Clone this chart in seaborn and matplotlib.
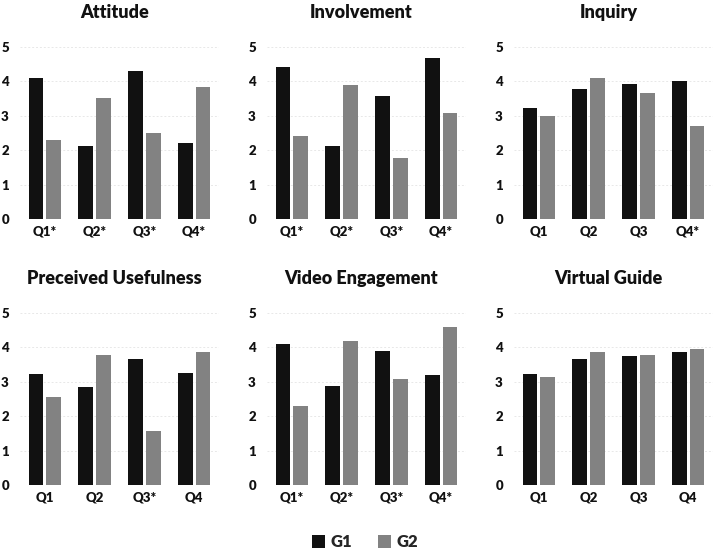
import matplotlib
matplotlib.use("Agg")
import matplotlib.pyplot as plt
import seaborn as sns
import pandas as pd
from matplotlib.patches import Patch

sns.set_theme(style="white")
plt.rcParams['font.family'] = ['Lato', 'DejaVu Sans']
plt.rcParams['font.weight'] = 'bold'

titles = ["Attitude", "Involvement", "Inquiry",
          "Preceived Usefulness", "Video Engagement", "Virtual Guide"]
tick_labels = [
    ["Q1*", "Q2*", "Q3*", "Q4*"],
    ["Q1*", "Q2*", "Q3*", "Q4*"],
    ["Q1", "Q2", "Q3", "Q4*"],
    ["Q1", "Q2", "Q3*", "Q4"],
    ["Q1*", "Q2*", "Q3*", "Q4*"],
    ["Q1", "Q2", "Q3", "Q4"],
]
questions = ["Q1", "Q2", "Q3", "Q4"]
groups = ["G1", "G2"]
g1_values = [
    [4.11, 2.11, 4.31, 2.22],
    [4.41, 2.11, 3.57, 4.67],
    [3.22, 3.77, 3.91, 4.01],
    [3.22, 2.86, 3.66, 3.25],
    [4.09, 2.89, 3.90, 3.19],
    [3.23, 3.67, 3.76, 3.87],
]
g2_values = [
    [2.30, 3.52, 2.50, 3.84],
    [2.40, 3.89, 1.76, 3.09],
    [3.00, 4.09, 3.65, 2.69],
    [2.56, 3.78, 1.56, 3.86],
    [2.29, 4.20, 3.09, 4.59],
    [3.15, 3.86, 3.78, 3.95],
]
colors = {"G1": "#111111", "G2": "#828282"}

fig = plt.figure(figsize=(7.13, 5.53), dpi=100)
W, H = 713, 553
lefts = [20, 267, 514]
tops = [47, 313]
aw, ah = 199, 172

for i in range(6):
    r, c = divmod(i, 3)
    ax = fig.add_axes([lefts[c] / W, (H - tops[r] - ah) / H, aw / W, ah / H])
    rows = []
    for q, a, b in zip(questions, g1_values[i], g2_values[i]):
        rows.append({"Question": q, "Group": "G1", "Score": a})
        rows.append({"Question": q, "Group": "G2", "Score": b})
    df = pd.DataFrame(rows)
    sns.barplot(data=df, x="Question", y="Score", hue="Group", order=questions,
                hue_order=groups, palette=colors, width=0.72, gap=0.18,
                linewidth=0, errorbar=None, legend=False, ax=ax, zorder=3)
    ax.set_ylim(0, 5)
    ax.set_xlim(-0.5, 3.5)
    ax.set_yticks([0, 1, 2, 3, 4, 5])
    ax.set_xticks(range(4))
    ax.set_xticklabels(tick_labels[i])
    ax.set_xlabel("")
    ax.set_ylabel("")
    ax.tick_params(axis="both", length=0, labelsize=9.5, colors="#111111")
    ax.tick_params(axis="x", pad=5)
    ax.tick_params(axis="y", pad=8)
    for lab in ax.get_xticklabels() + ax.get_yticklabels():
        lab.set_fontweight("heavy")
    ax.yaxis.grid(True, color="#e8e8e8", linestyle=(0, (2, 2)), linewidth=0.7, zorder=0)
    ax.set_axisbelow(True)
    for s in ax.spines.values():
        s.set_visible(False)
    ax.set_title(titles[i], fontsize=13, fontweight="heavy", pad=21, x=0.475, color="#111111")

handles = [Patch(facecolor=colors[g], edgecolor="none", label=g) for g in groups]
fig.legend(handles=handles, loc="center", bbox_to_anchor=(0.512, 0.02), ncol=2,
           frameon=False, handlelength=0.8, handleheight=0.8, columnspacing=1.5,
           handletextpad=0.35, prop={"weight": "heavy", "size": 12})

fig.savefig("out.png", dpi=100)
